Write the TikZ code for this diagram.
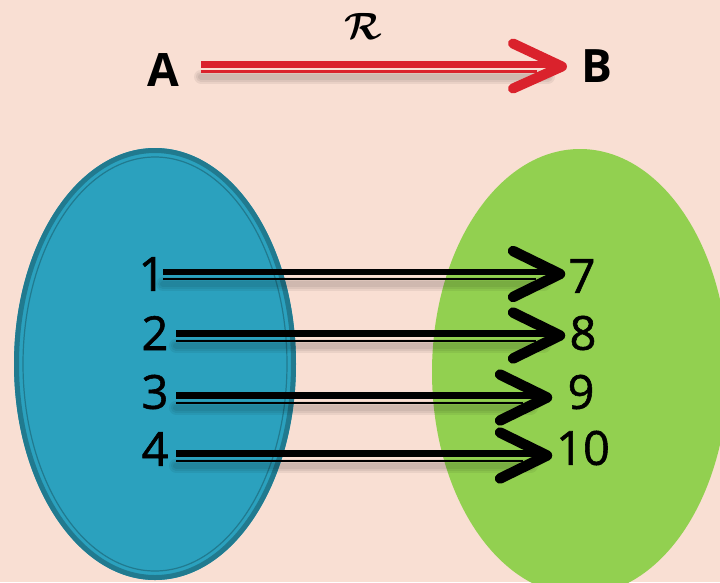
\documentclass[tikz,border=0pt]{standalone}
\usepackage{amsmath}
\usepackage{fontspec}
\setmainfont{Open Sans}
\newfontfamily\digitfont{Open Sans}[FakeBold=1.2]
\definecolor{bgpeach}{HTML}{F9DFD3}
\definecolor{setblue}{HTML}{2BA1BE}
\definecolor{setblueedge}{HTML}{217A8F}
\definecolor{setgreen}{HTML}{92D050}
\definecolor{relred}{HTML}{DA222C}
\tikzset{
  lbl/.style={inner sep=0pt, font=\fontsize{47}{47}\selectfont\digitfont},
  ablbl/.style={inner sep=0pt, font=\fontsize{46}{46}\selectfont\bfseries},
  thk/.style={line width=6.5pt, black},
  thn/.style={line width=2pt, black},
  chev/.style={line width=10.5pt, line cap=round, line join=round, black},
  shad/.style={black, opacity=0.06, line cap=round},
  rthk/.style={line width=7pt, relred},
  rthn/.style={line width=2.5pt, relred},
  rchev/.style={line width=10pt, line cap=round, line join=round, relred},
}
\begin{document}
\begin{tikzpicture}[x=1pt,y=-1pt]
\fill[bgpeach] (0,0) rectangle (720,582);
\useasboundingbox (0,0) rectangle (720,582);
\begin{scope}
\clip (0,0) rectangle (720,582);
% green set
\fill[setgreen] (580,372) ellipse [x radius=148pt, y radius=223pt];
% blue set
\fill[setblue] (155,364) ellipse [x radius=141pt, y radius=216pt];
\draw[setblueedge, line width=5pt] (155,364) ellipse [x radius=138.5pt, y radius=213.5pt];
\draw[setblueedge, line width=1.2pt] (155,364) ellipse [x radius=132pt, y radius=207pt];
\end{scope}

% top relation A -> B
\node[ablbl] (A) at (163,70) {A};
\node[ablbl] (B) at (597,66) {B};
\node[inner sep=0pt, scale=3.8] (R) at (363,26) {$\boldsymbol{\mathcal{R}}$};
\coordinate (rs) at (201,64.5);
\coordinate (rt) at (562,66.5);
\foreach \w in {14,10,6}{
  \draw[shad, line width=\w pt] ([yshift=-12]rs) -- ([xshift=-14,yshift=-10]rt);
}
\draw[rthk] (rs) -- ([xshift=-10]rs -| rt);
\draw[rthn] ([yshift=-7]rs) -- ([xshift=-25,yshift=-7]rs -| rt);
\draw[rchev] ([shift={(-49,-23)}]rt) -- (rt) -- ([shift={(-49,22)}]rt);

% elements
\node[lbl] (n1) at (152,274) {1};
\node[lbl] (n2) at (155,333) {2};
\node[lbl] (n3) at (155,392) {3};
\node[lbl] (n4) at (155,449) {4};
\node[lbl] (m7) at (582,276) {7};
\node[lbl] (m8) at (583,333) {8};
\node[lbl] (m9) at (581,392) {9};
\node[lbl] (m10) at (583,448) {10};

\coordinate (s1) at (163,272);
\coordinate (s2) at (176,333.5);
\coordinate (s3) at (176,395.5);
\coordinate (s4) at (176,453.5);
\coordinate (t7) at (560,272);
\coordinate (t8) at (560,333.5);
\coordinate (t9) at (547,395.5);
\coordinate (t10) at (547,453.5);

\foreach \s/\t in {s1/t7, s2/t8, s3/t9, s4/t10}{
  \foreach \w in {14,10,6}{
    \draw[shad, line width=\w pt] ([yshift=-12]\s) -- ([xshift=-16,yshift=-12]\t);
  }
  \draw[thk] (\s) -- ([xshift=-8]\t);
  \draw[thn] ([yshift=-7]\s) -- ([xshift=-24,yshift=-7]\t);
  \draw[chev] ([shift={(-47,-21)}]\t) -- ([yshift=-2]\t) -- ([shift={(-47,25)}]\t);
}
\end{tikzpicture}
\end{document}
